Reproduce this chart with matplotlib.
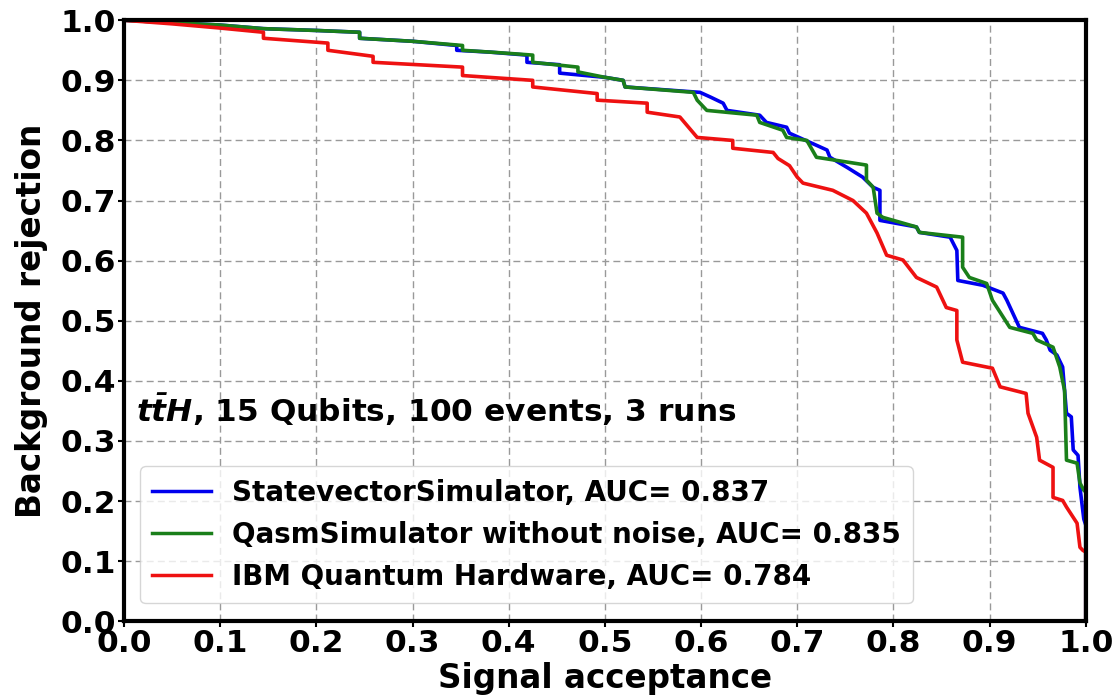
import matplotlib
matplotlib.use("Agg")
import matplotlib.pyplot as plt

# ROC curves: signal acceptance (x) vs background rejection (y)
sv_x = [0.0, 0.05, 0.10, 0.145, 0.20, 0.245, 0.245, 0.30, 0.346, 0.346, 0.38, 0.419, 0.419,
        0.453, 0.453, 0.50, 0.519, 0.521, 0.599, 0.610, 0.623, 0.627, 0.661, 0.668, 0.689,
        0.692, 0.713, 0.731, 0.734, 0.752, 0.768, 0.779, 0.786, 0.786, 0.824, 0.827, 0.859,
        0.866, 0.867, 0.893, 0.914, 0.918, 0.931, 0.955, 0.959, 0.963, 0.970, 0.976, 0.980,
        0.985, 0.987, 0.992, 0.994, 0.998, 1.0, 1.0]
sv_y = [1.0, 0.996, 0.992, 0.986, 0.983, 0.980, 0.970, 0.965, 0.958, 0.950, 0.947, 0.942, 0.930,
        0.926, 0.912, 0.905, 0.900, 0.889, 0.880, 0.872, 0.862, 0.850, 0.842, 0.830, 0.822,
        0.812, 0.797, 0.784, 0.772, 0.755, 0.739, 0.722, 0.717, 0.667, 0.656, 0.647, 0.639,
        0.617, 0.567, 0.559, 0.546, 0.534, 0.489, 0.479, 0.468, 0.451, 0.443, 0.423, 0.346,
        0.340, 0.285, 0.276, 0.223, 0.170, 0.160, 0.0]

qs_x = [0.0, 0.05, 0.10, 0.145, 0.20, 0.245, 0.245, 0.30, 0.352, 0.352, 0.39, 0.425, 0.425,
        0.472, 0.472, 0.50, 0.519, 0.521, 0.592, 0.596, 0.606, 0.658, 0.661, 0.685, 0.689,
        0.710, 0.720, 0.772, 0.772, 0.779, 0.783, 0.789, 0.824, 0.827, 0.872, 0.872, 0.879,
        0.897, 0.903, 0.921, 0.945, 0.949, 0.966, 0.973, 0.978, 0.980, 0.991, 0.994, 0.998,
        1.0, 1.0]
qs_y = [1.0, 0.996, 0.992, 0.986, 0.983, 0.980, 0.970, 0.965, 0.958, 0.950, 0.946, 0.942, 0.930,
        0.922, 0.914, 0.905, 0.900, 0.889, 0.880, 0.867, 0.850, 0.842, 0.830, 0.817, 0.805,
        0.800, 0.772, 0.759, 0.734, 0.722, 0.679, 0.672, 0.656, 0.647, 0.639, 0.589, 0.572,
        0.562, 0.534, 0.489, 0.479, 0.468, 0.456, 0.423, 0.384, 0.268, 0.263, 0.230, 0.218,
        0.215, 0.0]

hw_x = [0.0, 0.05, 0.10, 0.145, 0.145, 0.212, 0.212, 0.259, 0.259, 0.352, 0.352, 0.425, 0.425,
        0.492, 0.492, 0.544, 0.544, 0.578, 0.596, 0.633, 0.633, 0.675, 0.680, 0.692, 0.700,
        0.706, 0.737, 0.758, 0.772, 0.783, 0.793, 0.810, 0.824, 0.845, 0.855, 0.866, 0.866,
        0.872, 0.903, 0.911, 0.938, 0.940, 0.949, 0.952, 0.966, 0.966, 0.976, 0.980, 0.991,
        0.994, 0.997, 1.0, 1.0]
hw_y = [1.0, 0.994, 0.987, 0.980, 0.970, 0.962, 0.950, 0.940, 0.930, 0.922, 0.908, 0.900, 0.889,
        0.878, 0.867, 0.862, 0.847, 0.839, 0.805, 0.800, 0.787, 0.780, 0.770, 0.758, 0.739,
        0.729, 0.717, 0.700, 0.679, 0.646, 0.609, 0.601, 0.572, 0.556, 0.522, 0.517, 0.468,
        0.431, 0.421, 0.390, 0.379, 0.346, 0.306, 0.268, 0.256, 0.206, 0.201, 0.190, 0.163,
        0.123, 0.118, 0.115, 0.0]

labels = ["StatevectorSimulator, AUC= 0.837",
          "QasmSimulator without noise, AUC= 0.835",
          "IBM Quantum Hardware, AUC= 0.784"]
colors = ["#0000ee", "#1a7f1a", "#ee1111"]
ticks = [0.0, 0.1, 0.2, 0.3, 0.4, 0.5, 0.6, 0.7, 0.8, 0.9, 1.0]
tick_labels = ["0.0", "0.1", "0.2", "0.3", "0.4", "0.5", "0.6", "0.7", "0.8", "0.9", "1.0"]

plt.rcParams["font.family"] = ["DejaVu Sans"]
plt.rcParams["font.weight"] = "bold"
plt.rcParams["mathtext.fontset"] = "dejavusans"

fig = plt.figure(figsize=(11.17, 6.98), dpi=100)
ax = fig.add_axes([0.111, 0.110, 0.861, 0.861])

for xs, ys, c, lab in zip([sv_x, qs_x, hw_x], [sv_y, qs_y, hw_y], colors, labels):
    ax.plot(xs, ys, color=c, lw=2.6, label=lab)

ax.set_xlim(0, 1)
ax.set_ylim(0, 1)
ax.set_xticks(ticks)
ax.set_xticklabels(tick_labels)
ax.set_yticks(ticks)
ax.set_yticklabels(tick_labels)
ax.tick_params(labelsize=22.5, width=1.5, length=4, pad=1.5)
for lab in ax.get_xticklabels() + ax.get_yticklabels():
    lab.set_fontweight("bold")
ax.grid(True, linestyle=(0, (5, 3)), color="#999999", lw=1.0)
for sp in ax.spines.values():
    sp.set_linewidth(3)
    sp.set_color("black")

ax.set_xlabel("Signal acceptance", fontsize=23.5, fontweight="bold", labelpad=3)
ax.set_ylabel("Background rejection", fontsize=23.5, fontweight="bold", labelpad=9)

ax.text(0.012, 0.352, r"$\mathbfit{t\bar{t}H}$, 15 Qubits, 100 events, 3 runs",
        transform=ax.transAxes, fontsize=22.5, fontweight="bold", va="center", ha="left")

leg = ax.legend(loc="lower left", bbox_to_anchor=(0.0166, 0.03),
                prop={"weight": "bold", "size": 20}, handlelength=2.1, borderpad=0.45,
                labelspacing=0.5, handletextpad=0.75, borderaxespad=0.0)
for line in leg.get_lines():
    line.set_linewidth(2.5)

fig.savefig("out.png", dpi=100)
